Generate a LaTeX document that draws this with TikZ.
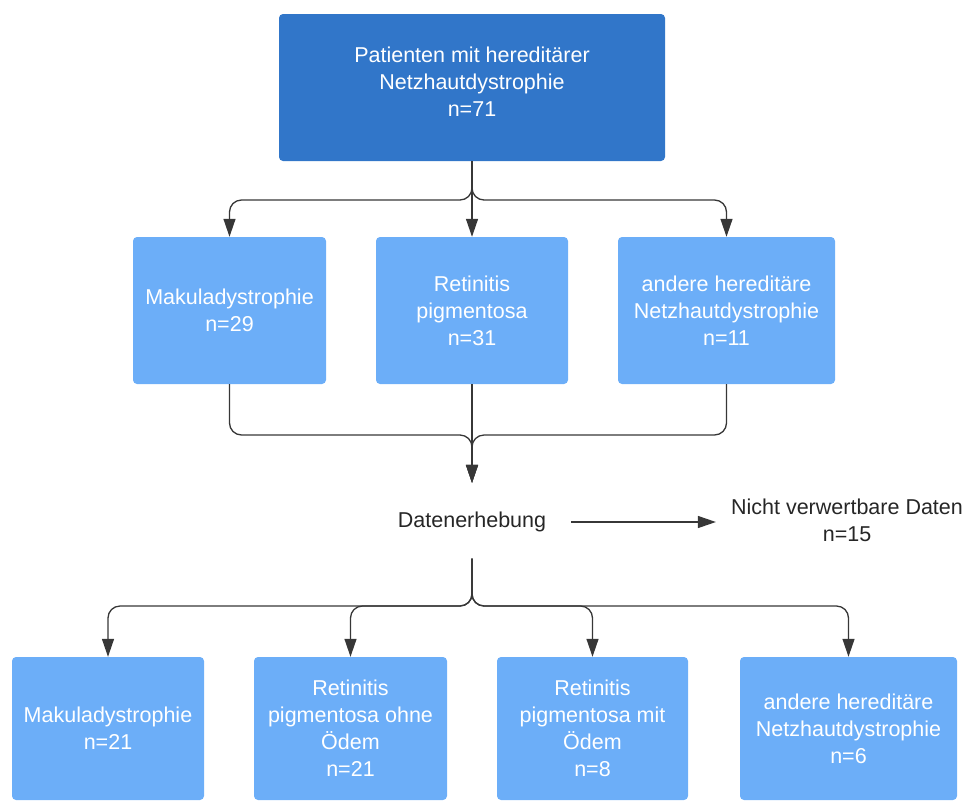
\documentclass[tikz,border=0pt]{standalone}
\usepackage{fontspec}
\setmainfont{Liberation Sans}
\usetikzlibrary{arrows.meta,positioning,calc}
\definecolor{darkbox}{RGB}{49,118,201}
\definecolor{lightbox}{RGB}{108,174,248}
\definecolor{linegray}{RGB}{55,55,55}
\newcommand{\diafont}{\fontsize{21.5}{27}\selectfont}
\tikzset{
  topbox/.style={rectangle,rounded corners=4pt,fill=darkbox,text=white,align=center,minimum width=386pt,minimum height=147pt,font=\diafont},
  subbox/.style={rectangle,rounded corners=4pt,fill=lightbox,text=white,align=center,inner sep=0pt,font=\diafont},
  plain/.style={align=center,inner sep=0pt,font=\diafont,text=black!85},
  link/.style={-{Triangle[length=18pt,width=12pt]},line width=1.3pt,draw=linegray,rounded corners=12pt}
}

\begin{document}
\begin{tikzpicture}[x=1pt,y=-1pt]
  \useasboundingbox (0,0) rectangle (968,801);
  % Gesamtkollektiv
  \node[topbox,text depth=12pt] (pat) at (472,87.5) {Patienten mit hereditärer\\Netzhautdystrophie\\n=71};

  % Diagnosegruppen
  \node[subbox,minimum width=193pt,minimum height=147pt] (mak) at (229.5,310.5) {Makuladystrophie\\n=29};
  \node[subbox,minimum width=192pt,minimum height=147pt] (rp) at (472,310.5) {Retinitis\\pigmentosa\\n=31};
  \node[subbox,minimum width=217pt,minimum height=147pt] (and) at (726.5,310.5) {andere hereditäre\\Netzhautdystrophie\\n=11};

  % Datenerhebung
  \node[plain,text height=16pt,text depth=5pt] (daten) at (472,522) {Datenerhebung};
  \node[plain] (nv) at (847,520) {Nicht verwertbare Daten\\n=15};

  % Auswertung
  \node[subbox,minimum width=192pt,minimum height=143pt] (mak2) at (108,728.5) {Makuladystrophie\\n=21};
  \node[subbox,minimum width=193pt,minimum height=143pt] (rpo) at (350.5,728.5) {Retinitis\\pigmentosa ohne\\Ödem\\n=21};
  \node[subbox,minimum width=191pt,minimum height=143pt] (rpm) at (592.5,728.5) {Retinitis\\pigmentosa mit\\Ödem\\n=8};
  \node[subbox,minimum width=217pt,minimum height=143pt] (and2) at (848.5,728.5) {andere hereditäre\\Netzhautdystrophie\\n=6};

  % Verzweigung oben
  \coordinate (split) at (472,200);
  \draw[link] (pat.south) -- (split) -| (mak.north);
  \draw[link] (pat.south) -- (rp.north);
  \draw[link] (pat.south) -- (split) -| (and.north);

  % Zusammenfuehrung
  \coordinate (merge) at (472,435);
  \draw[link,shorten >=28.5pt] (mak.south) |- (merge) -- (daten.north);
  \draw[link,shorten >=28.5pt] (rp.south) -- (daten.north);
  \draw[link,shorten >=28.5pt] (and.south) |- (merge) -- (daten.north);

  % Ausschluss
  \draw[link,shorten <=25pt,shorten >=15pt] (daten.east) -- (daten.east -| nv.west);

  % Verzweigung unten
  \coordinate (split2) at (472,606);
  \draw[link,shorten <=26pt] (daten.south) -- (split2) -| (mak2.north);
  \draw[link,shorten <=26pt] (daten.south) -- (split2) -| (rpo.north);
  \draw[link,shorten <=26pt] (daten.south) -- (split2) -| (rpm.north);
  \draw[link,shorten <=26pt] (daten.south) -- (split2) -| (and2.north);
\end{tikzpicture}
\end{document}
